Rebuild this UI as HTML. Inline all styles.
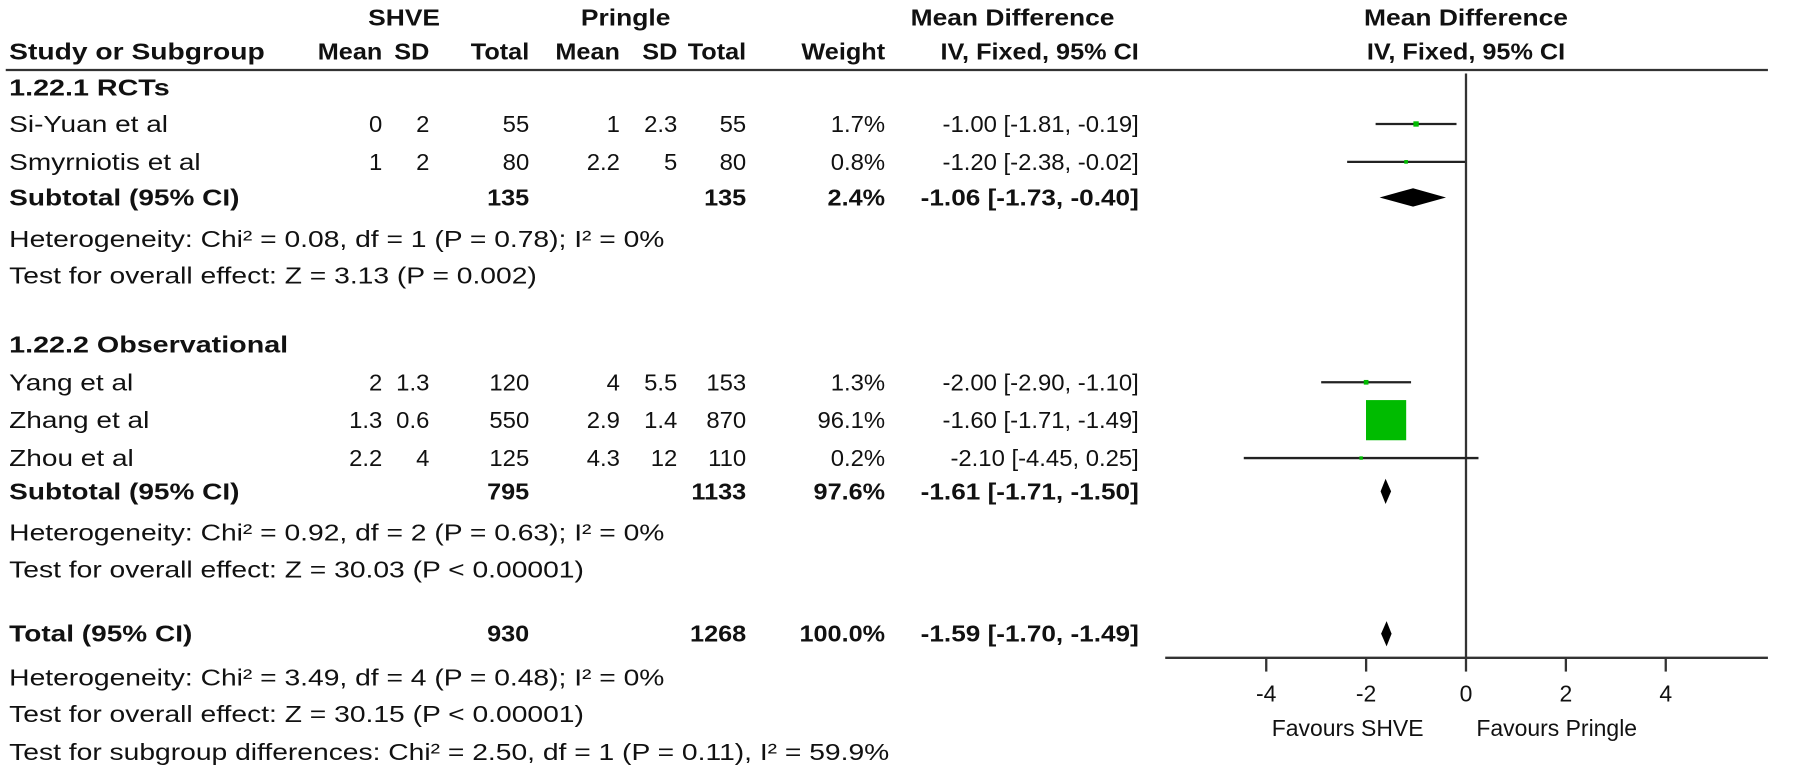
<!DOCTYPE html>
<html><head><meta charset="utf-8"><style>
html,body{margin:0;padding:0;background:#fff;}
svg{display:block;font-family:"Liberation Sans",Arial,sans-serif;}
text{font-size:20px;fill:#111;}
.b{font-weight:bold;}
</style></head><body>
<svg id="c" width="1800" height="767" viewBox="0 0 1800 767"><g id="g" transform="scale(1.148)"></g></svg>
<script>
const studies=["Si-Yuan et al","Smyrniotis et al","Yang et al","Zhang et al","Zhou et al"];
const studyRowY=[108,141,333,366,399];
const shveMean=["0","1","2","1.3","2.2"];
const shveSD=["2","2","1.3","0.6","4"];
const shveN=["55","80","120","550","125"];
const prMean=["1","2.2","4","2.9","4.3"];
const prSD=["2.3","5","5.5","1.4","12"];
const prN=["55","80","153","870","110"];
const weights=[1.7,0.8,1.3,96.1,0.2];
const md=[-1.00,-1.20,-2.00,-1.60,-2.10];
const lo=[-1.81,-2.38,-2.90,-1.71,-4.45];
const hi=[-0.19,-0.02,-1.10,-1.49,0.25];
const sumLabels=["Subtotal (95% CI)","Subtotal (95% CI)","Total (95% CI)"];
const sumY=[172,428,552];
const sumShveN=["135","795","930"];
const sumPrN=["135","1133","1268"];
const sumW=["2.4%","97.6%","100.0%"];
const sumMd=[-1.06,-1.61,-1.59];
const sumLo=[-1.73,-1.71,-1.70];
const sumHi=[-0.40,-1.50,-1.49];
const ticks=[-4,-2,0,2,4];
const notes=[["1.22.1 RCTs",76,true],["Heterogeneity: Chi² = 0.08, df = 1 (P = 0.78); I² = 0%",208,false],["Test for overall effect: Z = 3.13 (P = 0.002)",240,false],["1.22.2 Observational",300,true],["Heterogeneity: Chi² = 0.92, df = 2 (P = 0.63); I² = 0%",464,false],["Test for overall effect: Z = 30.03 (P < 0.00001)",496,false],["Heterogeneity: Chi² = 3.49, df = 4 (P = 0.48); I² = 0%",590,false],["Test for overall effect: Z = 30.15 (P < 0.00001)",622,false],["Test for subgroup differences: Chi² = 2.50, df = 1 (P = 0.11), I² = 59.9%",655,false]];

const svg=document.getElementById('g');const NS="http://www.w3.org/2000/svg";
const X0=1277,PX=43.5;function xs(v){return X0+v*PX;}
function el(t,a,name){const e=document.createElementNS(NS,t);for(const k in a)e.setAttribute(k,a[k]);


svg.appendChild(e);return e;}
function tx(s,x,y,anchor,bold,name,sx){sx=sx||1.15;const e=el('text',{x:0,y:0,'text-anchor':anchor||'start',transform:`translate(${x},${y+7}) scale(${sx},1)`},name);if(bold)e.setAttribute('class','b');e.textContent=s;return e;}
function fmt(v){return v.toFixed(2);}
function ci(m,l,h){return fmt(m)+" ["+fmt(l)+", "+fmt(h)+"]";}
tx("SHVE",352,15,'middle',true,'shve-header');
tx("Pringle",545,15,'middle',true,'pringle-header');
tx("Mean Difference",882,15,'middle',true,'md-header');
tx("Mean Difference",1277,15,'middle',true,'plot-header');
tx("Study or Subgroup",8,45,'start',true,'study-col-header',1.23);
const hx=[333,374,461,540,590,650,771,992],hl=["Mean","SD","Total","Mean","SD","Total","Weight","IV, Fixed, 95% CI"];
for(let i=0;i<hx.length;i++)tx(hl[i],hx[i],45,'end',true,'col-header',1.1);
tx("IV, Fixed, 95% CI",1277,45,'middle',true,'plot-subheader',1.1);
el('line',{x1:5,y1:61,x2:1540,y2:61,stroke:'#333','stroke-width':2},'header-rule');
notes.forEach(n=>tx(n[0],8,n[1],'start',n[2],'note',n[2]?1.25:1.23));
el('line',{x1:X0,y1:64,x2:X0,y2:573,stroke:'#333','stroke-width':2},'zero-line');
for(let i=0;i<studies.length;i++){const y=studyRowY[i];
tx(studies[i],8,y,'start',false,'study-name',1.22);
const vals=[shveMean[i],shveSD[i],shveN[i],prMean[i],prSD[i],prN[i],weights[i].toFixed(1)+"%",ci(md[i],lo[i],hi[i])];
for(let j=0;j<vals.length;j++)tx(vals[j],hx[j],y,'end',false,'study-value',1.04);
el('line',{x1:xs(lo[i]),y1:y,x2:xs(hi[i]),y2:y,stroke:'#222','stroke-width':2},'ci-line');
const s=Math.max(3,35*Math.sqrt(weights[i]/96.1));
el('rect',{x:xs(md[i])-s/2,y:y-s/2,width:s,height:s,fill:'#00bb00'},'study-marker');}
for(let i=0;i<sumLabels.length;i++){const y=sumY[i];
tx(sumLabels[i],8,y,'start',true,'summary-label',1.22);
tx(sumShveN[i],hx[2],y,'end',true,'summary-value',1.1);tx(sumPrN[i],hx[5],y,'end',true,'summary-value',1.1);
tx(sumW[i],hx[6],y,'end',true,'summary-value',1.1);tx(ci(sumMd[i],sumLo[i],sumHi[i]),hx[7],y,'end',true,'summary-value',1.14);
const h=(sumHi[i]-sumLo[i]>0.5)?8:11;
el('polygon',{points:`${xs(sumLo[i])},${y} ${xs(sumMd[i])},${y-h} ${xs(sumHi[i])},${y} ${xs(sumMd[i])},${y+h}`,fill:'#000'},'summary-diamond');}
el('line',{x1:1015,y1:573,x2:1540,y2:573,stroke:'#333','stroke-width':2},'x-axis');
ticks.forEach(t=>{el('line',{x1:xs(t),y1:573,x2:xs(t),y2:585,stroke:'#333','stroke-width':2},'x-tick');
tx(String(t),xs(t),604,'middle',false,'x-tick-label',1.0);});
tx("Favours SHVE",1240,634,'end',false,'favours-shve',1.0);
tx("Favours Pringle",1286,634,'start',false,'favours-pringle',1.0);
</script>
</body></html>
